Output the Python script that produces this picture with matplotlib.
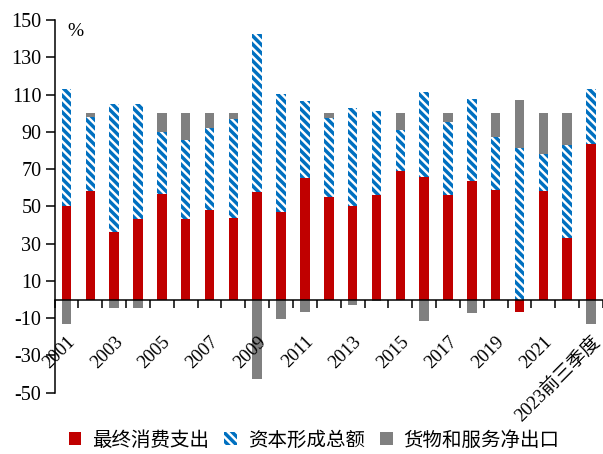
import matplotlib
matplotlib.use("Agg")
import matplotlib.pyplot as plt
from matplotlib.patches import Patch
import numpy as np

plt.rcParams['font.family'] = ['Liberation Serif', 'Noto Sans CJK SC']
plt.rcParams['hatch.linewidth'] = 2.5
plt.rcParams['axes.unicode_minus'] = False

years = [str(y) for y in range(2001, 2023)] + ['2023前三季度']
consumption = [50.2, 58.0, 36.0, 43.0, 56.5, 43.0, 47.8, 43.8, 57.6, 47.1, 65.4, 55.0,
               50.0, 56.3, 68.8, 66.0, 55.9, 63.8, 58.6, -6.8, 58.3, 32.8, 83.2]
capital = [62.9, 39.9, 68.7, 61.7, 33.3, 42.4, 44.2, 53.2, 85.0, 63.3, 41.1, 42.6,
           52.9, 44.7, 22.3, 45.6, 39.3, 43.6, 28.6, 81.5, 19.6, 49.9, 29.8]
net_export = [-13.1, 2.1, -4.7, -4.7, 10.2, 14.6, 8.0, 3.0, -42.6, -10.4, -6.5, 2.4,
              -2.9, -1.0, 8.9, -11.6, 4.8, -7.4, 12.8, 25.3, 22.1, 17.3, -13.0]
series_names = ['最终消费支出', '资本形成总额', '货物和服务净出口']

RED = '#C00000'
BLUE = '#0070C0'
GRAY = '#808080'

fig = plt.figure(figsize=(6.03, 4.54), dpi=100)
ax = fig.add_axes([0.0905, 0.135, 0.9095, 0.821])

x = np.arange(len(years))
width = 0.4
pos_base = np.zeros(len(years))
neg_base = np.zeros(len(years))

styles = [
    dict(color=RED),
    dict(facecolor='white', edgecolor=BLUE, hatch='\\\\\\\\', linewidth=0),
    dict(color=GRAY),
]
# positives stack up from zero, negatives stack down
for vals, st in zip([consumption, capital, net_export], styles):
    v = np.array(vals)
    bottom = np.where(v >= 0, pos_base, neg_base)
    ax.bar(x, v, width, bottom=bottom, **st)
    pos_base = pos_base + np.where(v >= 0, v, 0)
    neg_base = neg_base + np.where(v < 0, v, 0)

ax.set_xlim(-0.5, len(years) - 0.5)
ax.set_ylim(-50, 150)
ax.set_yticks(np.arange(-50, 151, 20))
ax.tick_params(axis='y', direction='out', length=6.5, width=1.1, pad=3, labelsize=14.5)

ax.spines['bottom'].set_position(('data', 0))
ax.spines['top'].set_visible(False)
ax.spines['right'].set_visible(False)
ax.spines['left'].set_linewidth(1.1)
ax.spines['bottom'].set_linewidth(1.1)

# ticks between categories, labels on every other category
ax.set_xticks(np.arange(-0.5, len(years)), labels=[])
ax.tick_params(axis='x', which='major', direction='out', length=6, width=1.1)
ax.set_xticks(x[::2], labels=years[::2], minor=True)
ax.tick_params(axis='x', which='minor', length=0, pad=24, labelsize=13.5)
for lab in ax.get_xticklabels(minor=True):
    lab.set_rotation(45)
    lab.set_ha('right')
    lab.set_va('top')
    lab.set_rotation_mode('anchor')

ax.text(0.023, 0.968, '%', transform=ax.transAxes, fontsize=14, va='center', ha='left')

handles = [
    Patch(facecolor=RED, edgecolor='none'),
    Patch(facecolor='white', edgecolor=BLUE, hatch='\\\\\\\\', linewidth=0),
    Patch(facecolor=GRAY, edgecolor='none'),
]
fig.legend(handles, series_names, loc='center', bbox_to_anchor=(0.521, 0.03), ncol=3,
           frameon=False, fontsize=14, handlelength=0.65, handleheight=0.65,
           handletextpad=0.55, columnspacing=0.8, borderaxespad=0)

fig.savefig('out.png', dpi=100)
